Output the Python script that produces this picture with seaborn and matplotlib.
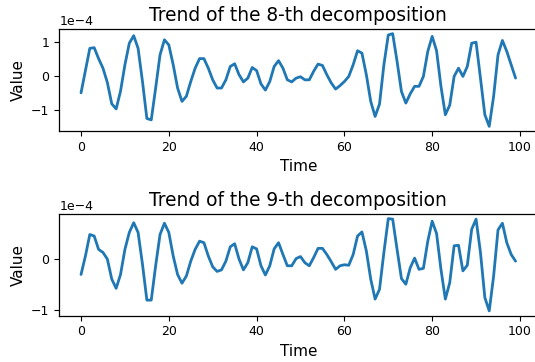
import numpy as np
import matplotlib
matplotlib.use("Agg")
import matplotlib.pyplot as plt
from matplotlib.ticker import MultipleLocator
import seaborn as sns

# Trend components of the 8th and 9th decomposition (units of 1e-4)
time = list(range(100))

trend_8 = [
    -0.50, 0.15, 0.80, 0.82, 0.50, 0.22, -0.20, -0.82, -0.97, -0.45,
    0.32, 0.95, 1.17, 0.80, -0.17, -1.25, -1.29, -0.36, 0.61, 1.05,
    0.90, 0.32, -0.36, -0.75, -0.60, -0.17, 0.22, 0.50, 0.50, 0.22,
    -0.12, -0.36, -0.36, -0.12, 0.27, 0.35, 0.03, -0.18, -0.07, 0.24,
    0.15, -0.24, -0.42, -0.17, 0.27, 0.44, 0.22, -0.12, -0.18, -0.07,
    -0.03, -0.12, -0.12, 0.13, 0.34, 0.30, 0.03, -0.21, -0.39, -0.29,
    -0.17, -0.02, 0.32, 0.73, 0.66, 0.03, -0.75, -1.19, -0.83, 0.32,
    1.19, 1.23, 0.42, -0.46, -0.80, -0.53, -0.31, -0.31, -0.02, 0.71,
    1.15, 0.73, -0.31, -1.14, -0.86, -0.02, 0.22, -0.02, 0.27, 0.95,
    0.98, -0.07, -1.14, -1.48, -0.60, 0.61, 1.03, 0.71, 0.32, -0.07,
]

trend_9 = [
    -0.31, 0.05, 0.47, 0.44, 0.18, 0.12, -0.01, -0.40, -0.58, -0.31,
    0.18, 0.51, 0.70, 0.51, -0.11, -0.81, -0.81, -0.14, 0.47, 0.69,
    0.51, 0.05, -0.31, -0.48, -0.34, -0.05, 0.18, 0.34, 0.31, 0.05,
    -0.16, -0.25, -0.22, -0.05, 0.23, 0.29, -0.01, -0.22, -0.08, 0.23,
    0.19, -0.14, -0.32, -0.14, 0.19, 0.31, 0.08, -0.14, -0.14, 0.00,
    0.04, -0.08, -0.14, 0.02, 0.20, 0.20, 0.08, -0.06, -0.21, -0.14,
    -0.12, -0.13, 0.08, 0.44, 0.52, 0.15, -0.40, -0.79, -0.60, 0.12,
    0.78, 0.77, 0.18, -0.39, -0.50, -0.18, 0.01, -0.21, -0.19, 0.34,
    0.73, 0.49, -0.21, -0.79, -0.47, 0.25, 0.26, -0.24, -0.13, 0.57,
    0.77, 0.12, -0.76, -1.02, -0.34, 0.56, 0.69, 0.31, 0.08, -0.05,
]

scale = 1e-4
titles = ["Trend of the 8-th decomposition", "Trend of the 9-th decomposition"]
series = [trend_8, trend_9]

sns.set_style("ticks")
plt.rcParams["font.family"] = ["DejaVu Sans"]

fig = plt.figure(figsize=(5.35, 3.62), dpi=100)
positions = [
    [59.3 / 535, (362 - 131) / 362, 478 / 535, 102 / 362],
    [59.3 / 535, (362 - 315.5) / 362, 478 / 535, 101.5 / 362],
]

for pos, title, vals in zip(positions, titles, series):
    ax = fig.add_axes(pos)
    y = np.array(vals) * scale
    sns.lineplot(x=time, y=y, ax=ax, color="#1f77b4", linewidth=2.0)
    ax.set_title(title, fontsize=13.4, color="black")
    ax.set_xlabel("Time", fontsize=11, color="black")
    ax.set_ylabel("Value", fontsize=11, color="black")
    ax.set_xticks([0, 20, 40, 60, 80, 100])
    ax.yaxis.set_major_locator(MultipleLocator(1e-4))
    ax.ticklabel_format(axis="y", style="sci", scilimits=(0, 0))
    ax.tick_params(labelsize=9, colors="black")
    ax.yaxis.get_offset_text().set_fontsize(9)
    for sp in ax.spines.values():
        sp.set_color("black")
        sp.set_linewidth(0.9)
    # the frame runs past the right edge of the canvas
    ax.spines["right"].set_visible(False)

fig.savefig("out.png", dpi=100)
